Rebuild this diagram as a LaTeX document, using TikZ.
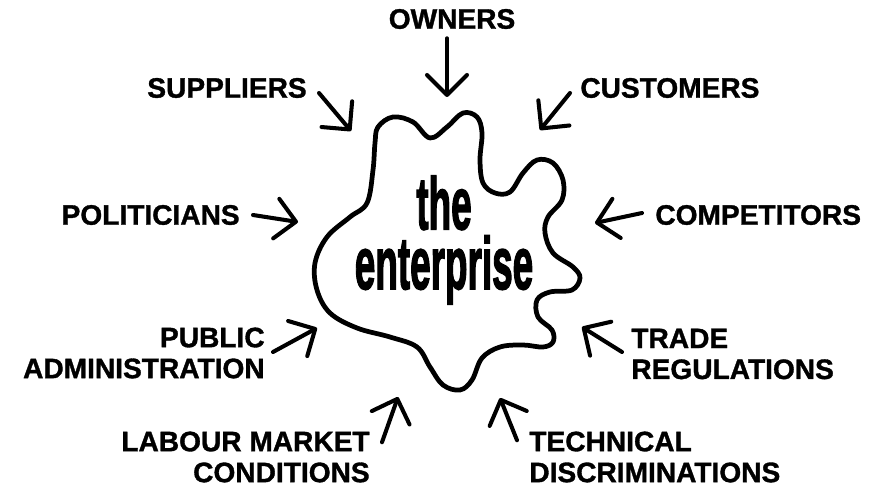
\documentclass[tikz,border=0pt]{standalone}
\usepackage{fontspec}
\setmainfont{Liberation Sans}[BoldFeatures={FakeBold=1.2}]
\newfontfamily\heavyfont{Liberation Sans}[BoldFeatures={FakeBold=2.5}]
\usepackage{graphicx}
\usetikzlibrary{arrows.meta}

\newcommand{\bigword}[1]{\scalebox{0.7}[1.4]{#1}}

\begin{document}
\begin{tikzpicture}[
  x=0.02cm, y=-0.02cm,
  label/.style={inner sep=0pt, font=\fontsize{16}{17.6}\selectfont\bfseries},
  title/.style={inner sep=0pt, align=center, font=\heavyfont\fontsize{30}{34}\selectfont\bfseries},
  inarrow/.style={-{Straight Barb[length=4mm, width=8mm, round]}, line width=2.3pt, line cap=round},
  blob/.style={line width=2.7pt, line join=round}
]
  \useasboundingbox (0,0) rectangle (878,489);

  % The enterprise itself
  \draw[blob] plot[smooth cycle, tension=0.6] coordinates {
    (378,127) (393,117) (413,122) (430,138) (447,127) (463,113) (477,117)
    (482,133) (480,160) (483,183) (495,193) (510,192) (523,173) (537,160)
    (553,163) (563,180) (562,200) (548,217) (545,233) (553,253) (573,267)
    (580,278) (572,290) (550,292) (537,300) (538,317) (552,330) (553,342)
    (543,347) (523,345) (500,347) (482,358) (472,380) (460,390) (443,385)
    (430,367) (417,347) (390,337) (357,328) (330,313) (317,290) (315,263)
    (327,237) (350,217) (367,203) (373,170) (375,143)};
  \node[title] (enterprise) at (444,240) {\bigword{the}\\\bigword{enterprise}};

  % Forces acting on it
  \node[label] (owners) at (452,19) {OWNERS};
  \node[label] (suppliers) at (227,88) {SUPPLIERS};
  \node[label, anchor=west] (customers) at (580,88) {CUSTOMERS};
  \node[label, anchor=east] (politicians) at (240,215) {POLITICIANS};
  \node[label, anchor=west] (competitors) at (655,215) {COMPETITORS};
  \node[label, anchor=east, align=right] (public) at (265,353) {PUBLIC\\ADMINISTRATION};
  \node[label, anchor=west, align=left] (trade) at (631,354) {TRADE\\REGULATIONS};
  \node[label, anchor=east, align=right] (labour) at (370,457) {LABOUR MARKET\\CONDITIONS};
  \node[label, anchor=west, align=left] (technical) at (529,457) {TECHNICAL\\DISCRIMINATIONS};

  % Arrow tips near the outline
  \coordinate (owners-in) at (447,97);
  \coordinate (suppliers-in) at (351,131);
  \coordinate (customers-in) at (540,130);
  \coordinate (politicians-in) at (298,222);
  \coordinate (competitors-in) at (595,223);
  \coordinate (public-in) at (317,328);
  \coordinate (trade-in) at (582,327);
  \coordinate (labour-in) at (398,397);
  \coordinate (technical-in) at (500,398);

  \draw[inarrow] ([shift={(-5,9)}]owners.south) -- (owners-in);
  \draw[inarrow] ([shift={(12,5)}]suppliers.east) -- (suppliers-in);
  \draw[inarrow] ([shift={(-10,5)}]customers.west) -- (customers-in);
  \draw[inarrow] ([shift={(13,0)}]politicians.east) -- (politicians-in);
  \draw[inarrow] ([shift={(-13,-2)}]competitors.west) -- (competitors-in);
  \draw[inarrow] ([shift={(8,-1)}]public.east) -- (public-in);
  \draw[inarrow] ([shift={(-9,-2)}]trade.west) -- (trade-in);
  \draw[inarrow] ([shift={(12,11)}]labour.north east) -- (labour-in);
  \draw[inarrow] ([shift={(-12,9)}]technical.north west) -- (technical-in);
\end{tikzpicture}
\end{document}
